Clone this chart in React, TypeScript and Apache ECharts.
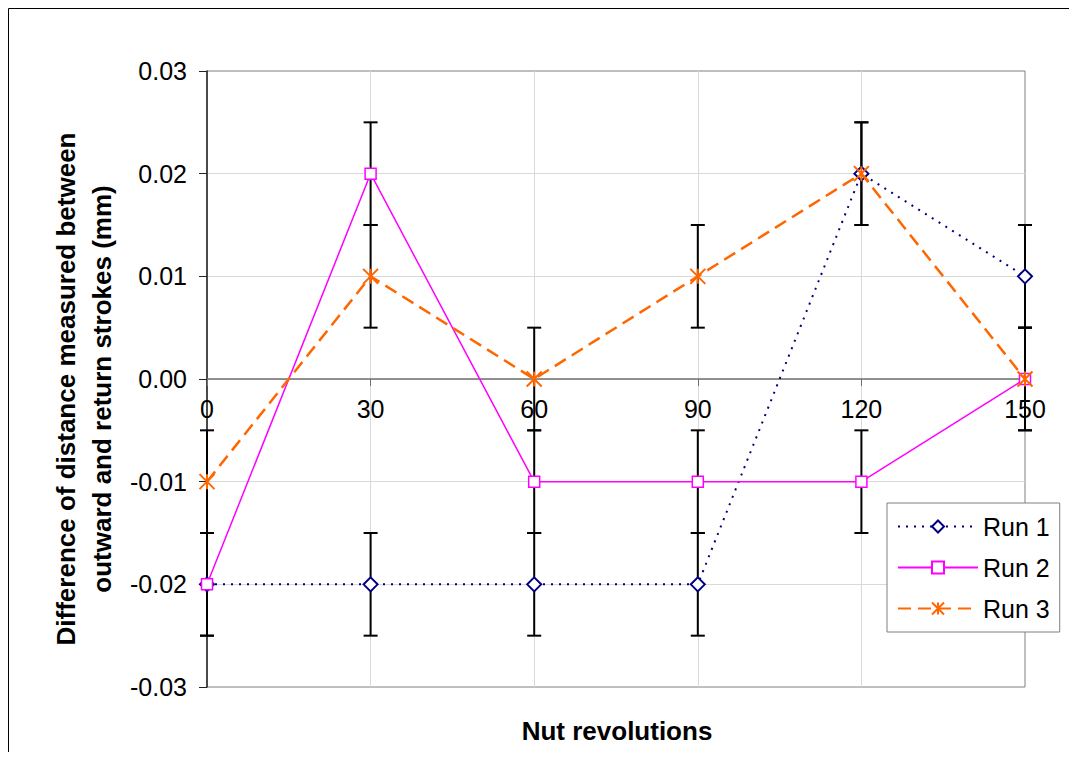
import React, { useEffect, useRef } from "react";
import * as echarts from "echarts";

const revolutions = [0, 30, 60, 90, 120, 150];
const run1 = [-0.02, -0.02, -0.02, -0.02, 0.02, 0.01];
const run2 = [-0.02, 0.02, -0.01, -0.01, -0.01, 0];
const run3 = [-0.01, 0.01, 0, 0.01, 0.02, 0];
const errorAmount = 0.005;
const seriesNames = ["Run 1", "Run 2", "Run 3"];
const yTitle = "Difference of distance measured between\noutward and return strokes (mm)";
const xTitle = "Nut revolutions";

const FONT = "'Liberation Sans', Arial, sans-serif";
const GRID_H = 616;

export default function App() {
  const ref = useRef<HTMLDivElement>(null);
  useEffect(() => {
    if (!ref.current) return;
    const chart = echarts.init(ref.current, null, { renderer: "svg" });
    const toPairs = (arr: number[]) => arr.map((v, i) => [revolutions[i], v]);
    const errData: number[][] = [];
    [run1, run2, run3].forEach((arr) => arr.forEach((v, i) => errData.push([revolutions[i], v])));

    const option: any = {
      animation: false,
      textStyle: { fontFamily: FONT },
      grid: {
        left: 199,
        top: 63,
        width: 818,
        height: GRID_H,
        show: true,
        borderColor: "#808080",
        borderWidth: 1,
        backgroundColor: "transparent",
      },
      graphic: [
        {
          type: "rect",
          shape: { x: 0.5, y: 0.5, width: 2000, height: 2000 },
          style: { fill: "none", stroke: "#000", lineWidth: 1 },
          silent: true,
        },
        {
          type: "text",
          x: 76,
          y: 381,
          rotation: Math.PI / 2,
          style: {
            text: yTitle,
            font: `bold 26px ${FONT}`,
            fill: "#000",
            align: "center",
            verticalAlign: "middle",
            lineHeight: 36,
          },
        },
        {
          type: "text",
          x: 609,
          y: 723,
          style: {
            text: xTitle,
            font: `bold 26px ${FONT}`,
            fill: "#000",
            align: "center",
            verticalAlign: "middle",
          },
        },
      ],
      legend: {
        orient: "vertical",
        left: 879,
        top: 495,
        data: seriesNames,
        backgroundColor: "#fff",
        borderColor: "#808080",
        borderWidth: 1,
        padding: [11, 10, 11, 10],
        itemGap: 16,
        itemWidth: 80,
        itemHeight: 15,
        textStyle: { fontSize: 25, color: "#000", fontFamily: FONT },
      },
      xAxis: {
        type: "value",
        min: 0,
        max: 150,
        interval: 30,
        position: "bottom",
        offset: -GRID_H / 2,
        axisLine: { onZero: false, lineStyle: { color: "#707070", width: 1.5 } },
        axisTick: { show: true, length: 7, inside: false, lineStyle: { color: "#707070" } },
        axisLabel: { fontSize: 25, color: "#000", margin: 17, fontFamily: FONT },
        splitLine: {
          show: true,
          showMinLine: false,
          showMaxLine: false,
          lineStyle: { color: "#d9d9d9", width: 1 },
        },
      },
      yAxis: {
        type: "value",
        min: -0.03,
        max: 0.03,
        interval: 0.01,
        axisLine: { show: true, onZero: false, lineStyle: { color: "#222", width: 1.5 } },
        axisTick: { show: true, length: 8, lineStyle: { color: "#222" } },
        axisLabel: {
          fontSize: 25,
          color: "#000",
          margin: 20,
          fontFamily: FONT,
          formatter: (v: number) => (Math.abs(v) < 1e-9 ? "0.00" : v.toFixed(2)),
        },
        splitLine: {
          show: true,
          showMinLine: false,
          showMaxLine: false,
          lineStyle: { color: "#d9d9d9", width: 1 },
        },
      },
      series: [
        {
          type: "custom",
          name: "err",
          data: errData,
          z: 1,
          renderItem: (params: any, api: any) => {
            const x = api.value(0);
            const y = api.value(1);
            const top = api.coord([x, y + errorAmount]);
            const bot = api.coord([x, y - errorAmount]);
            const hw = 7;
            const st = { stroke: "#000", lineWidth: 2 };
            return {
              type: "group",
              children: [
                { type: "line", shape: { x1: top[0], y1: top[1], x2: bot[0], y2: bot[1] }, style: st },
                { type: "line", shape: { x1: top[0] - hw, y1: top[1], x2: top[0] + hw, y2: top[1] }, style: st },
                { type: "line", shape: { x1: bot[0] - hw, y1: bot[1], x2: bot[0] + hw, y2: bot[1] }, style: st },
              ],
            };
          },
        },
        {
          type: "line",
          name: seriesNames[0],
          data: toPairs(run1),
          z: 3,
          symbol: "diamond",
          symbolSize: 14,
          showSymbol: true,
          lineStyle: { color: "#000080", width: 2, type: [2, 6] },
          itemStyle: { color: "#fff", borderColor: "#000080", borderWidth: 2 },
        },
        {
          type: "line",
          name: seriesNames[1],
          data: toPairs(run2),
          z: 4,
          symbol: "rect",
          symbolSize: 11,
          showSymbol: true,
          lineStyle: { color: "#FF00FF", width: 1.5, type: "solid" },
          itemStyle: { color: "#fff", borderColor: "#FF00FF", borderWidth: 1.5 },
        },
        {
          type: "line",
          name: seriesNames[2],
          data: toPairs(run3),
          z: 5,
          symbol: "path://M0,0L10,10M10,0L0,10M5,0L5,10",
          symbolSize: 15,
          showSymbol: true,
          lineStyle: { color: "#FF6600", width: 2.5, type: [13, 7] },
          itemStyle: { color: "#FF6600", borderColor: "#FF6600", borderWidth: 2 },
        },
      ],
    };
    chart.setOption(option);
    return () => chart.dispose();
  }, []);
  return <div ref={ref} style={{ width: 1069, height: 744 }} />;
}
